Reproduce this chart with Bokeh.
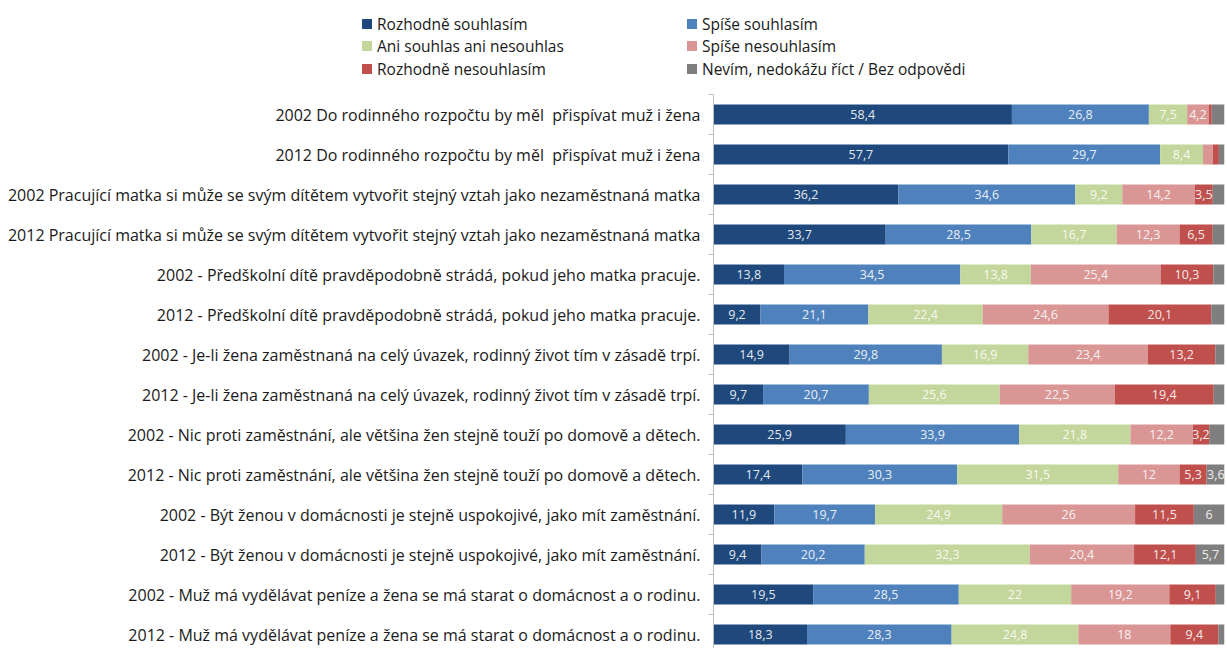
import numpy as np
from bokeh.plotting import figure
from bokeh.layouts import column
from bokeh.models import ColumnDataSource, Range1d, FixedTicker, Div
from bokeh.core.properties import value
from bokeh.embed import file_html
from bokeh.resources import INLINE

categories = [
    "2002 Do rodinného rozpočtu by měl\u00a0 přispívat muž i žena",
    "2012 Do rodinného rozpočtu by měl\u00a0 přispívat muž i žena",
    "2002 Pracující matka si může se svým dítětem vytvořit stejný vztah jako nezaměstnaná matka",
    "2012 Pracující matka si může se svým dítětem vytvořit stejný vztah jako nezaměstnaná matka",
    "2002 - Předškolní dítě pravděpodobně strádá, pokud jeho matka pracuje.",
    "2012 - Předškolní dítě pravděpodobně strádá, pokud jeho matka pracuje.",
    "2002 - Je-li žena zaměstnaná na celý úvazek, rodinný život tím v zásadě trpí.",
    "2012 - Je-li žena zaměstnaná na celý úvazek, rodinný život tím v zásadě trpí.",
    "2002 - Nic proti zaměstnání, ale většina žen stejně touží po domově a dětech.",
    "2012 - Nic proti zaměstnání, ale většina žen stejně touží po domově a dětech.",
    "2002 - Být ženou v domácnosti je stejně uspokojivé, jako mít zaměstnání.",
    "2012 - Být ženou v domácnosti je stejně uspokojivé, jako mít zaměstnání.",
    "2002 - Muž má vydělávat peníze a žena se má starat o domácnost a o rodinu.",
    "2012 - Muž má vydělávat peníze a žena se má starat o domácnost a o rodinu.",
]

series_names = [
    "Rozhodně souhlasím",
    "Spíše souhlasím",
    "Ani souhlas ani nesouhlas",
    "Spíše nesouhlasím",
    "Rozhodně nesouhlasím",
    "Nevím, nedokážu říct / Bez odpovědi",
]

rozhodne_souhlasim = [58.4, 57.7, 36.2, 33.7, 13.8, 9.2, 14.9, 9.7, 25.9, 17.4, 11.9, 9.4, 19.5, 18.3]
spise_souhlasim = [26.8, 29.7, 34.6, 28.5, 34.5, 21.1, 29.8, 20.7, 33.9, 30.3, 19.7, 20.2, 28.5, 28.3]
ani_souhlas = [7.5, 8.4, 9.2, 16.7, 13.8, 22.4, 16.9, 25.6, 21.8, 31.5, 24.9, 32.3, 22.0, 24.8]
spise_nesouhlasim = [4.2, 1.9, 14.2, 12.3, 25.4, 24.6, 23.4, 22.5, 12.2, 12.0, 26.0, 20.4, 19.2, 18.0]
rozhodne_nesouhlasim = [0.6, 1.2, 3.5, 6.5, 10.3, 20.1, 13.2, 19.4, 3.2, 5.3, 11.5, 12.1, 9.1, 9.4]
nevim = [2.5, 1.1, 2.3, 2.3, 2.2, 2.6, 1.8, 2.1, 3.0, 3.6, 6.0, 5.7, 1.7, 1.2]

colors = ["#1f497d", "#4f81bd", "#c3d69b", "#d99694", "#c0504d", "#7f7f7f"]
FONT = "Open Sans"
TEXT_COLOR = "#1a1a1a"

series = [rozhodne_souhlasim, spise_souhlasim, ani_souhlas, spise_nesouhlasim, rozhodne_nesouhlasim, nevim]
keys = ["s%d" % i for i in range(len(series))]
ypos = list(range(len(categories)))

data = {"y": ypos}
for k, s in zip(keys, series):
    data[k] = s
source = ColumnDataSource(data)

# ---------- main chart ----------
p = figure(width=1227, height=554, output_backend="svg", toolbar_location=None,
           x_range=Range1d(0, 100), y_range=Range1d(13.35, -0.5),
           x_axis_location=None, min_border_left=713, min_border_right=3,
           min_border_top=0, min_border_bottom=0)
p.outline_line_color = None
p.xgrid.visible = False
p.ygrid.visible = False
p.background_fill_color = "white"
p.border_fill_color = "white"

renderers = p.hbar_stack(keys, y="y", height=0.5, color=colors, source=source, line_color=None)

def fmt(v):
    s = ("%.1f" % v).rstrip("0").rstrip(".")
    return s.replace(".", ",")

lx, ly, lt = [], [], []
arr = np.array(series)
cum = np.cumsum(arr, axis=0)
for si in range(arr.shape[0]):
    for ri in range(arr.shape[1]):
        v = arr[si, ri]
        if v >= 3.2:
            lx.append(cum[si, ri] - v / 2)
            ly.append(ri)
            lt.append(fmt(v))
lsrc = ColumnDataSource(dict(x=lx, y=ly, t=lt))
p.text(x="x", y="y", text="t", source=lsrc, text_align="center", text_baseline="middle",
       text_color="white", text_alpha=0.9, text_font=value(FONT), text_font_size="12.5px")

yax = p.yaxis[0]
yax.ticker = FixedTicker(ticks=ypos, minor_ticks=[i - 0.5 for i in range(len(categories) + 1)])
yax.major_label_overrides = {i: c for i, c in enumerate(categories)}
yax.major_tick_line_color = None
yax.major_tick_out = 0
yax.major_tick_in = 0
yax.minor_tick_line_color = "#bfbfbf"
yax.minor_tick_out = 5
yax.minor_tick_in = 0
yax.axis_line_color = "#bfbfbf"
yax.major_label_standoff = 8
yax.major_label_text_font = FONT
yax.major_label_text_font_size = "16px"
yax.major_label_text_color = TEXT_COLOR

# ---------- legend strip (two columns, three rows) ----------
col_sq_x = [362, 687]
col_tx_x = [377, 702]
row_cy = [23.5, 46.3, 69]
parts = []
for i, (name, c) in enumerate(zip(series_names, colors)):
    r, cidx = divmod(i, 2)
    cy = row_cy[r]
    parts.append(
        f'<div style="position:absolute;left:{col_sq_x[cidx]}px;top:{cy - 5:.1f}px;'
        f'width:10px;height:10px;background:{c};"></div>'
    )
    parts.append(
        f'<div style="position:absolute;left:{col_tx_x[cidx]}px;top:{cy - 11:.1f}px;'
        f'height:22px;line-height:22px;white-space:nowrap;">{name}</div>'
    )
html = (f'<div style="position:relative;width:1227px;height:94px;font-family:\'{FONT}\';'
        f'font-size:15.5px;color:{TEXT_COLOR};">' + "".join(parts) + '</div>')
lg = Div(text=html, width=1227, height=94, margin=(0, 0, 0, 0),
         styles={"padding": "0", "margin": "0"})

layout = column(lg, p, spacing=0)
open("out.html", "w").write(file_html(layout, INLINE))
